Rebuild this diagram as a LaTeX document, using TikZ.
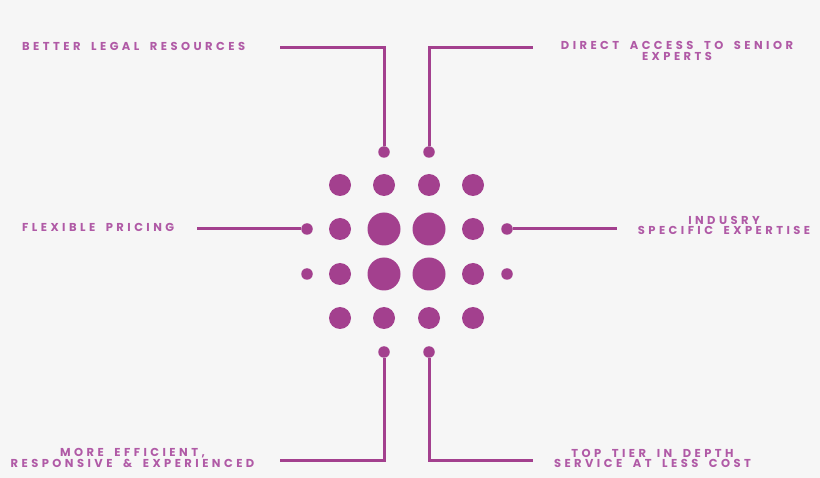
\documentclass[tikz,border=0pt]{standalone}
\usepackage{fontspec}
\newfontfamily\lblfont{Poppins}[LetterSpace=30,WordSpace=1.8]
\definecolor{dotc}{HTML}{A3408E}
\definecolor{txtc}{HTML}{B05AA6}
\definecolor{bgc}{HTML}{F6F6F6}
\begin{document}
\begin{tikzpicture}[x=1pt,y=-1pt,
  dot/.style={circle,fill=dotc,inner sep=0pt,minimum size=22pt},
  big/.style={circle,fill=dotc,inner sep=0pt,minimum size=33pt},
  tiny/.style={circle,fill=dotc,inner sep=0pt,minimum size=11.5pt},
  conn/.style={draw=dotc,line width=3pt},
  lbl/.style={text=txtc,font=\lblfont\bfseries\fontsize{11.5}{10.7}\selectfont,inner sep=0pt,align=center}]
\fill[bgc] (0,0) rectangle (820,478);
\useasboundingbox (0,0) rectangle (820,478);
% grid of dots
\node[dot] (d11) at (340,185) {};
\node[dot] (d12) at (384,185) {};
\node[dot] (d13) at (429,185) {};
\node[dot] (d14) at (473,185) {};
\node[dot] (d21) at (340,229) {};
\node[big] (d22) at (384,229) {};
\node[big] (d23) at (429,229) {};
\node[dot] (d24) at (473,229) {};
\node[dot] (d31) at (340,274) {};
\node[big] (d32) at (384,274) {};
\node[big] (d33) at (429,274) {};
\node[dot] (d34) at (473,274) {};
\node[dot] (d41) at (340,318) {};
\node[dot] (d42) at (384,318) {};
\node[dot] (d43) at (429,318) {};
\node[dot] (d44) at (473,318) {};
% tiny connector dots
\node[tiny] (tl) at (384,152) {};
\node[tiny] (tr) at (429,152) {};
\node[tiny] (ml) at (307,229) {};
\node[tiny] (ml2) at (307,274) {};
\node[tiny] (mr) at (507,229) {};
\node[tiny] (mr2) at (507,274) {};
\node[tiny] (bl) at (384,352) {};
\node[tiny] (br) at (429,352) {};
% line ends
\coordinate (etl) at (280,48);
\coordinate (etr) at (533,48);
\coordinate (eml) at (197,229);
\coordinate (emr) at (617,229);
\coordinate (ebl) at (280,461);
\coordinate (ebr) at (533,461);
% connectors
\draw[conn] (tl.north) |- (etl);
\draw[conn] (tr.north) |- (etr);
\draw[conn] (ml.west) -- (eml);
\draw[conn] (mr.east) -- (emr);
\draw[conn] (bl.south) |- (ebl);
\draw[conn] (br.south) |- (ebr);
% labels
\node[lbl,anchor=west] (lab1) at (22,46) {BETTER LEGAL RESOURCES};
\node[lbl] (lab2) at (677,51) {DIRECT ACCESS TO SENIOR\\EXPERTS};
\node[lbl,anchor=west] (lab3) at (22,227) {FLEXIBLE PRICING};
\node[lbl] (lab4) at (724,225.5) {INDUSRY\\SPECIFIC EXPERTISE};
\node[lbl] (lab5) at (132.5,458) {MORE EFFICIENT,\\RESPONSIVE \& EXPERIENCED};
\node[lbl] (lab6) at (652.5,458.5) {TOP TIER IN DEPTH\\SERVICE AT LESS COST};
\end{tikzpicture}
\end{document}
